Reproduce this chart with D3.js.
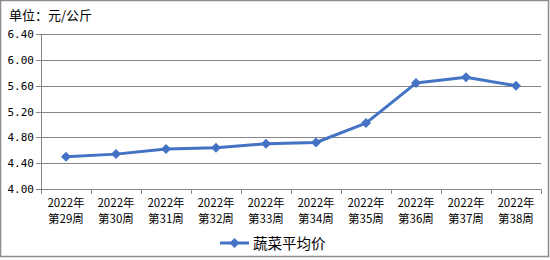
<!DOCTYPE html>
<html><head><meta charset="utf-8">
<script src="https://cdn.jsdelivr.net/npm/d3@7"></script>
<style>body{margin:0;background:#fff;}svg{display:block;}</style>
</head><body><svg id="c" width="550" height="260"></svg>
<script>
const categories = ["2022年第29周","2022年第30周","2022年第31周","2022年第32周","2022年第33周","2022年第34周","2022年第35周","2022年第36周","2022年第37周","2022年第38周"];
const seriesName = "蔬菜平均价";
const values = [4.50, 4.54, 4.62, 4.64, 4.70, 4.72, 5.02, 5.64, 5.73, 5.60];
const yTicks = [4.00, 4.40, 4.80, 5.20, 5.60, 6.00, 6.40];
const unitLabel = "单位：元/公斤";

const svg = d3.select("#c");
const font = "'Noto Sans CJK SC', sans-serif";
const color = "#4472C4";
const gridColor = "#868686";

svg.append("rect").attr("x",0.5).attr("y",0.5).attr("width",548).attr("height",256)
  .attr("fill","#fff").attr("stroke","#8c8c8c").attr("stroke-width",1.5);

svg.append("text").attr("x",9).attr("y",20).attr("font-family",font).attr("font-size",13)
  .attr("fill","#000").text(unitLabel);

const x = d3.scaleBand().domain(categories).range([41,541]);
const y = d3.scaleLinear().domain([4,6.4]).range([189,34]);

// gridlines
svg.append("g").selectAll("line").data(yTicks).join("line")
  .attr("x1",36).attr("x2",541).attr("y1",d=>Math.round(y(d))+0.5).attr("y2",d=>Math.round(y(d))+0.5)
  .attr("stroke",gridColor).attr("stroke-width",1);

svg.append("g").selectAll("text").data(yTicks).join("text")
  .attr("x",34).attr("y",d=>y(d)+4).attr("text-anchor","end")
  .attr("font-family","'DejaVu Sans Mono', monospace").attr("font-size",11).attr("fill","#000")
  .text(d=>d.toFixed(2));

// y axis line
svg.append("line").attr("x1",41.5).attr("x2",41.5).attr("y1",34).attr("y2",189)
  .attr("stroke",gridColor);

// x ticks
const xt = categories.map((c,i)=>i).concat([categories.length]);
svg.append("g").selectAll("line").data(xt).join("line")
  .attr("x1",i=>41.5+i*x.step()).attr("x2",i=>41.5+i*x.step()).attr("y1",189).attr("y2",194)
  .attr("stroke",gridColor);

svg.append("g").selectAll("text").data(categories).join("text")
  .attr("font-family",font).attr("font-size",11.5).attr("fill","#000").attr("text-anchor","middle")
  .attr("x",d=>x(d)+x.bandwidth()/2).attr("y",207).text(d=>d.slice(0,5));
svg.append("g").selectAll("text").data(categories).join("text")
  .attr("font-family",font).attr("font-size",11.5).attr("fill","#000").attr("text-anchor","middle")
  .attr("x",d=>x(d)+x.bandwidth()/2).attr("y",223).text(d=>d.slice(5));

// line
const line = d3.line().x((d,i)=>x(categories[i])+x.bandwidth()/2).y(d=>y(d));
svg.append("path").datum(values).attr("d",line).attr("fill","none")
  .attr("stroke",color).attr("stroke-width",3).attr("stroke-linejoin","round");

svg.append("g").selectAll("path").data(values).join("path")
  .attr("d",d3.symbol().type(d3.symbolSquare).size(50)())
  .attr("transform",(d,i)=>`translate(${x(categories[i])+x.bandwidth()/2},${y(d)}) rotate(45)`)
  .attr("fill",color);

// legend
svg.append("line").attr("x1",220).attr("x2",249).attr("y1",243).attr("y2",243)
  .attr("stroke",color).attr("stroke-width",3);
svg.append("path").attr("d",d3.symbol().type(d3.symbolSquare).size(50)())
  .attr("transform","translate(234.5,243) rotate(45)").attr("fill",color);
svg.append("text").attr("x",253).attr("y",248.5).attr("font-family",font).attr("font-size",14.5)
  .attr("fill","#000").text(seriesName);
</script></body></html>
